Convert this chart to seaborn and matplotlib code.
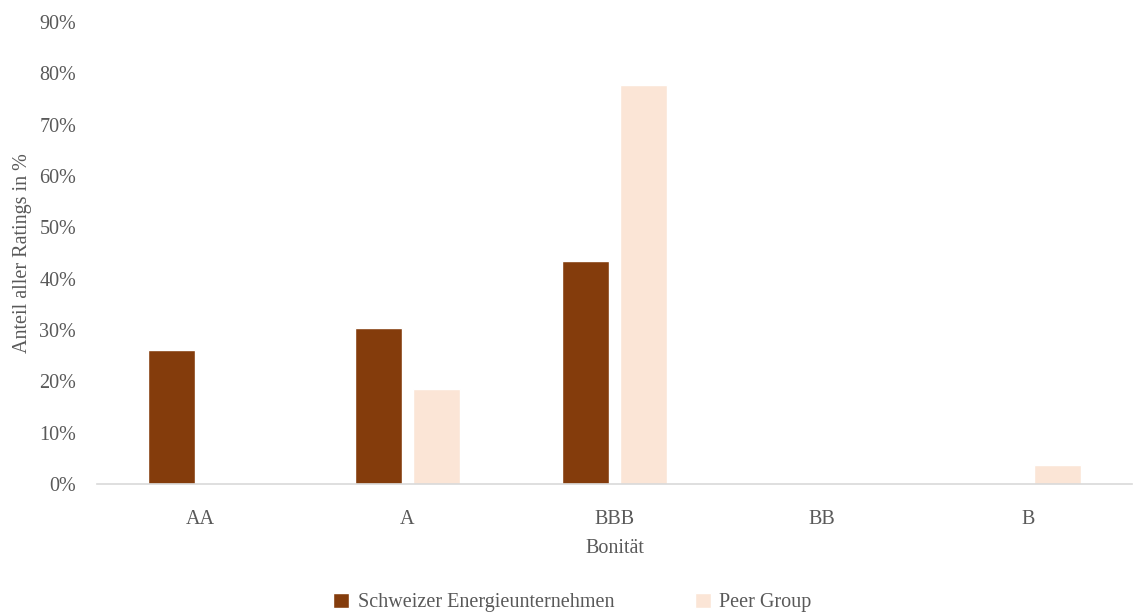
import matplotlib
matplotlib.use("Agg")
import matplotlib.pyplot as plt
from matplotlib.ticker import PercentFormatter, FixedLocator
import seaborn as sns
import pandas as pd

categories = ["AA", "A", "BBB", "BB", "B"]
series_names = ["Schweizer Energieunternehmen", "Peer Group"]
swiss_values = [26.1, 30.4, 43.5, 0.0, 0.0]
peer_values = [0.0, 18.5, 77.8, 0.0, 3.7]
y_ticks = [0, 10, 20, 30, 40, 50, 60, 70, 80, 90]

colors = ["#843C0C", "#FBE5D6"]
text_color = "#595959"
axis_color = "#D9D9D9"
fs = 14.5

sns.set_theme(style="white")
plt.rcParams["font.family"] = ["Liberation Serif", "DejaVu Serif"]

df = pd.DataFrame({
    "Bonität": categories * 2,
    "Anteil": swiss_values + peer_values,
    "Serie": [series_names[0]] * len(categories) + [series_names[1]] * len(categories),
})

fig = plt.figure(figsize=(11.33, 6.12), dpi=100)
ax = fig.add_axes([0.0856, 0.209, 0.9134, 0.755])

sns.barplot(data=df, x="Bonität", y="Anteil", hue="Serie", order=categories,
            hue_order=series_names, palette=colors, width=0.56, gap=0.2,
            saturation=1, ax=ax, legend=True)

ax.set_ylim(0, 90)
ax.set_xlim(-0.5, len(categories) - 0.5)
ax.yaxis.set_major_locator(FixedLocator(y_ticks))
ax.yaxis.set_major_formatter(PercentFormatter(decimals=0))

for side in ["top", "right", "left"]:
    ax.spines[side].set_visible(False)
ax.spines["bottom"].set_color(axis_color)
ax.spines["bottom"].set_linewidth(1.2)

ax.tick_params(axis="y", length=0, labelsize=fs, labelcolor=text_color, pad=15)
ax.tick_params(axis="x", which="major", length=0, labelsize=fs, labelcolor=text_color, pad=19)
ax.set_xticks([i - 0.5 for i in range(len(categories))], minor=True)
ax.tick_params(axis="x", which="minor", length=6, color=axis_color, width=1.2, direction="out")

ax.set_xlabel("Bonität", fontsize=fs, color=text_color, labelpad=7)
ax.set_ylabel("Anteil aller Ratings in %", fontsize=fs, color=text_color, labelpad=5)

handles, labels = ax.get_legend_handles_labels()
ax.legend_.remove()
fig.legend(handles, labels, loc="lower center", bbox_to_anchor=(0.505, -0.03), ncol=2,
           frameon=False, fontsize=fs, labelcolor=text_color, handlelength=0.8,
           handleheight=0.8, handletextpad=0.4, columnspacing=4.0)

fig.savefig("out.png", dpi=100)
